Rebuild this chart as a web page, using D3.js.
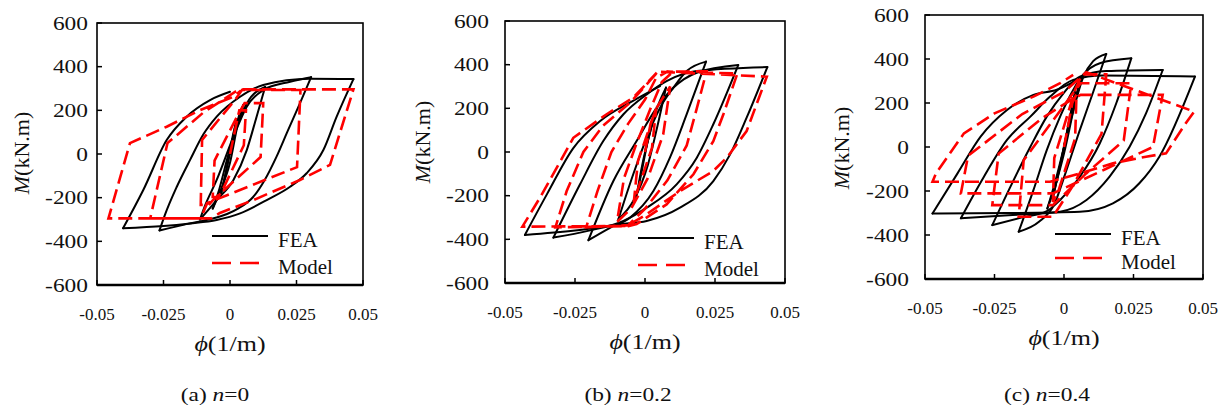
<!DOCTYPE html>
<html>
<head>
<meta charset="utf-8">
<script src="https://cdn.jsdelivr.net/npm/d3@7"></script>
<style>
body { margin: 0; background: #fff; }
text { font-family: 'Liberation Serif', 'Times New Roman', Times, serif; }
</style>
</head>
<body>
<svg id="fig" width="1227" height="414" font-family="Liberation Serif"></svg>
<script>
var phiTicks = [-0.05, -0.025, 0, 0.025, 0.05];
var mTicks = [-600, -400, -200, 0, 200, 400, 600];
var captionTags = ['(a) ', '(b) ', '(c) '];
var nValues = ['0', '0.2', '0.4'];
var legendNames = ['FEA', 'Model'];

// [phi (1/m), M (kN.m)], in loading order
var feaA = [[0,0],[0.0015,100],[0.0026,160],[0.001,80],[-0.0015,-80],[-0.0035,-190],
  [-0.002,-110],[0.001,60],[0.0035,180],[0.005,225],[0.003,140],[0.0,-40],[-0.004,-180],[-0.0065,-250],
  [-0.004,-160],[-0.001,-20],[0.003,140],[0.0065,235],[0.0132,307],
  [0.01,171],[0.0063,18],[0.0013,-119],[-0.005,-211],[-0.0113,-300],
  [-0.0095,-240],[-0.005,-119],[0.0013,79],[0.0063,217],[0.0125,293],[0.0226,331],[0.0305,352],
  [0.0262,230],[0.0215,100],[0.0175,-12],[0.013,-120],[0.0087,-197],[0.003,-250],[-0.0011,-275],[-0.008,-300],[-0.016,-320],[-0.0265,-350],
  [-0.0245,-280],[-0.02,-150],[-0.015,-27],[-0.01,90],[-0.005,171],[0.0038,262],[0.0125,316],[0.03,345],[0.0464,343],
  [0.0401,171],[0.0351,18],[0.0288,-88],[0.0226,-150],[0.0138,-211],[0.0038,-272],[-0.005,-302],[-0.015,-318],[-0.025,-330],[-0.0402,-340],
  [-0.0326,-165],[-0.0238,64],[-0.0163,171],[-0.0075,247],[0,285]];

var modelA = [[0,0],[0.0035,200],[0.006,200],[0.0052,40],[-0.003,-170],[-0.0045,-197],[-0.0065,-197],
  [-0.0058,-30],[0.003,180],[0.0055,233],[0.0125,233],[0.0115,-14],[-0.0064,-211],[-0.008,-233],[-0.011,-233],
  [-0.0105,64],[0.002,250],[0.0045,293],[0.0265,293],[0.0252,-60],[-0.0086,-225],[-0.011,-295],[-0.03,-295],
  [-0.0235,50],[-0.01,190],[0.002,285],[0.005,296],[0.0464,296],
  [0.0376,-50],[0.0263,-119],[0.0088,-211],[-0.0038,-270],[-0.007,-295],[-0.0457,-295],
  [-0.0376,50],[-0.0238,125],[-0.0113,201],[0.0013,262],[0.004,290]];

var feaB = [[0,0],[0.002,110],[0.0035,180],[0.002,100],[-0.001,-60],[-0.003,-200],
  [-0.0015,-110],[0.001,50],[0.004,190],[0.0075,295],[0.005,150],[0.001,-60],[-0.004,-220],[-0.0095,-308],
  [-0.0042,-102],[0.0006,65],[0.0054,203],[0.0101,294],[0.0149,371],[0.0218,414],
  [0.0149,173],[0.0089,-26],[0.003,-179],[-0.0054,-301],[-0.0125,-347],[-0.0202,-404],
  [-0.0113,-133],[-0.003,50],[0.0042,203],[0.0101,294],[0.0185,363],[0.0333,398],
  [0.0244,127],[0.0185,-26],[0.0113,-148],[0.0006,-255],[-0.0077,-316],[-0.02,-360],[-0.0327,-392],
  [-0.0232,-148],[-0.0149,50],[-0.0077,173],[0.0006,264],[0.0077,325],[0.0185,371],[0.0437,389],
  [0.0363,157],[0.0304,-11],[0.0244,-133],[0.0125,-255],[0.0006,-316],[-0.009,-331],[-0.025,-360],[-0.0429,-380],
  [-0.035,-193],[-0.0256,18],[-0.016,142],[-0.0043,234],[0.0054,302]];

var modelB = [[0,0],[0.002,130],[0.004,200],[0.0025,20],[-0.002,-150],[-0.004,-230],
  [-0.0025,-40],[0.004,200],[0.009,300],[0.0065,80],[0.001,-120],[-0.005,-260],[-0.01,-320],
  [-0.0075,-120],[-0.003,40],[0.002,200],[0.006,320],[0.01,368],[0.022,370],
  [0.0185,200],[0.0149,30],[0.008,-130],[0.0,-260],[-0.006,-335],[-0.021,-345],
  [-0.017,-180],[-0.012,0],[-0.006,130],[0.0,240],[0.004,340],[0.008,368],[0.033,360],
  [0.028,173],[0.0244,50],[0.0173,-102],[0.0077,-240],[-0.003,-330],[-0.006,-340],[-0.032,-345],
  [-0.028,-180],[-0.022,0],[-0.015,120],[-0.005,230],[0.002,330],[0.0046,368],[0.0435,345],
  [0.0363,96],[0.0292,-26],[0.0244,-87],[0.0125,-179],[0.0,-290],[-0.0065,-339],[-0.0438,-342],
  [-0.0375,-209],[-0.0315,-72],[-0.0256,65],[-0.0137,173],[-0.0042,249],[0.0042,363]];

var feaC = [[0,0],[0.002,130],[0.004,250],[0.002,120],[-0.001,-60],[-0.004,-230],
  [-0.002,-120],[0.001,60],[0.004,220],[0.0065,320],[0.004,200],[0.0,-30],[-0.003,-170],[-0.006,-280],
  [-0.003,-150],[0.0,0],[0.003,150],[0.007,320],[0.0105,390],[0.0152,423],
  [0.0105,250],[0.0055,70],[0.0005,-120],[-0.0035,-260],[-0.009,-340],[-0.0163,-385],
  [-0.011,-196],[-0.0062,-14],[-0.0014,138],[0.0033,259],[0.0063,320],[0.0129,381],[0.0242,403],
  [0.0188,199],[0.0129,17],[0.0057,-135],[-0.0014,-241],[-0.006,-290],[-0.015,-320],[-0.0258,-355],
  [-0.0193,-181],[-0.0121,1],[-0.0062,138],[-0.0002,244],[0.0057,320],[0.0152,345],[0.0355,350],
  [0.0295,153],[0.0236,1],[0.0164,-135],[0.0081,-241],[-0.0014,-294],[-0.02,-310],[-0.0371,-324],
  [-0.0288,-135],[-0.0205,32],[-0.0121,138],[-0.005,229],[0.0033,305],[0.014,325],[0.0471,320],
  [0.0343,-44],[0.0271,-165],[0.0176,-256],[0.0057,-294],[-0.02,-300],[-0.0473,-302],
  [-0.0383,-120],[-0.03,47],[-0.0205,168],[-0.011,237],[-0.0026,260],[0.0057,312]];

var modelC = [[0,0],[0.003,200],[0.0045,240],[0.004,40],[-0.002,-200],[-0.004,-250],
  [-0.0035,-50],[0.004,260],[0.0065,330],[0.0152,330],[0.0135,60],[0.003,-180],[-0.004,-317],[-0.0163,-317],
  [-0.0145,-60],[-0.004,120],[0.003,240],[0.006,290],[0.0242,290],[0.0215,30],[0.008,-120],[-0.004,-264],[-0.0258,-264],
  [-0.0235,-30],[-0.008,130],[0.002,210],[0.006,237],[0.0355,237],[0.032,0],[0.015,-100],[-0.004,-211],[-0.0371,-211],
  [-0.0345,-40],[-0.015,150],[0.0,250],[0.008,340],[0.0468,161],
  [0.0438,108],[0.0367,-29],[0.0295,-44],[0.0176,-74],[0.0057,-120],[-0.005,-158],[-0.0473,-158],
  [-0.046,-119],[-0.036,62],[-0.025,153],[-0.011,229],[-0.0014,290],[0.0033,328]];

var feaSeries = [feaA, feaB, feaC];
var modelSeries = [modelA, modelB, modelC];

// plot boxes, measured on the picture
var boxes = [
  {x0: 97, x1: 363, y0: 23, y1: 285, tickEnd: 88, titleX: 22, titleY: 153, legX: 212, legY: 236, legGap: 27, capX: 215},
  {x0: 505, x1: 785, y0: 21, y1: 283, tickEnd: 489, titleX: 423, titleY: 142, legX: 638, legY: 238, legGap: 27, capX: 628},
  {x0: 925, x1: 1203, y0: 15, y1: 279, tickEnd: 909, titleX: 842, titleY: 148, legX: 1055, legY: 234, legGap: 24, capX: 1047}
];

// cut a loading history into half-cycles (where phi turns back),
// each one sorted by phi so it can be drawn with a monotone curve
function halfCycles(pts) {
  var out = [], cur = [pts[0]], dir = 0;
  for (var k = 1; k < pts.length; k++) {
    var d = Math.sign(pts[k][0] - pts[k - 1][0]);
    if (dir !== 0 && d !== 0 && d !== dir) {
      out.push(cur);
      cur = [pts[k - 1]];
    }
    if (d !== 0) dir = d;
    cur.push(pts[k]);
  }
  out.push(cur);
  return out.map(function(b) { return b.slice().sort(function(p, q) { return p[0] - q[0]; }); });
}

var svg = d3.select('#fig');

boxes.forEach(function(b, i) {
  var x = d3.scaleLinear().domain([-0.05, 0.05]).range([b.x0, b.x1]);
  var y = d3.scaleLinear().domain([-600, 600]).range([b.y1, b.y0]);
  var g = svg.append('g');

  var line = d3.line().x(function(d) { return x(d[0]); }).y(function(d) { return y(d[1]); });
  var smooth = d3.line().x(function(d) { return x(d[0]); }).y(function(d) { return y(d[1]); })
    .curve(d3.curveMonotoneX);

  g.selectAll('.fea').data(halfCycles(feaSeries[i])).enter().append('path')
    .attr('d', smooth)
    .attr('fill', 'none').attr('stroke', '#000').attr('stroke-width', 2)
    .attr('stroke-linecap', 'round');

  g.append('path')
    .attr('d', line(modelSeries[i]))
    .attr('fill', 'none').attr('stroke', '#ff0000').attr('stroke-width', 2.6)
    .attr('stroke-dasharray', '14,6');

  // frame
  g.append('rect')
    .attr('x', b.x0).attr('y', b.y0)
    .attr('width', b.x1 - b.x0).attr('height', b.y1 - b.y0)
    .attr('fill', 'none').attr('stroke', '#000').attr('stroke-width', 1.6);
  g.append('line')
    .attr('x1', b.x0).attr('x2', b.x1).attr('y1', b.y1).attr('y2', b.y1)
    .attr('stroke', '#000').attr('stroke-width', 2.6);

  // y ticks and labels
  g.selectAll('.yt').data(mTicks).enter().append('line')
    .attr('x1', b.x0).attr('x2', b.x0 + 5)
    .attr('y1', function(d) { return y(d); }).attr('y2', function(d) { return y(d); })
    .attr('stroke', '#000').attr('stroke-width', 1.5);
  g.selectAll('.yl').data(mTicks).enter().append('text')
    .attr('transform', function(d) { return 'translate(' + b.tickEnd + ',' + (y(d) + 6.5) + ') scale(1.3,1)'; })
    .attr('text-anchor', 'end').attr('font-size', 18).attr('fill', '#111')
    .text(function(d) { return d; });

  // x ticks and labels
  g.selectAll('.xt').data(phiTicks).enter().append('line')
    .attr('x1', function(d) { return x(d); }).attr('x2', function(d) { return x(d); })
    .attr('y1', b.y1).attr('y2', b.y1 - 5)
    .attr('stroke', '#000').attr('stroke-width', 1.5);
  g.selectAll('.xl').data(phiTicks).enter().append('text')
    .attr('x', function(d) { return x(d); }).attr('y', b.y1 + 35)
    .attr('text-anchor', 'middle').attr('font-size', 17).attr('fill', '#111')
    .text(function(d) { return d; });

  // axis titles
  var yt = g.append('text')
    .attr('transform', 'translate(' + (b.titleX + 7) + ',' + b.titleY + ') rotate(-90)')
    .attr('text-anchor', 'middle').attr('font-size', 22).attr('fill', '#111');
  yt.append('tspan').attr('font-style', 'italic').text('M');
  yt.append('tspan').text('(kN.m)');

  var xt = g.append('text')
    .attr('transform', 'translate(' + x(0) + ',' + (b.y1 + 66) + ') scale(1.3,1)')
    .attr('text-anchor', 'middle').attr('font-size', 20).attr('fill', '#111');
  xt.append('tspan').attr('font-style', 'italic').text('\u03d5');
  xt.append('tspan').text('(1/m)');

  // legend
  g.append('line')
    .attr('x1', b.legX).attr('x2', b.legX + 56).attr('y1', b.legY).attr('y2', b.legY)
    .attr('stroke', '#000').attr('stroke-width', 2);
  g.append('line')
    .attr('x1', b.legX).attr('x2', b.legX + 50).attr('y1', b.legY + b.legGap).attr('y2', b.legY + b.legGap)
    .attr('stroke', '#ff0000').attr('stroke-width', 2.6).attr('stroke-dasharray', '19,9');
  g.selectAll('.lg').data(legendNames).enter().append('text')
    .attr('x', b.legX + 66).attr('y', function(d, k) { return b.legY + 11 + k * b.legGap; })
    .attr('font-size', 21).attr('fill', '#111')
    .text(function(d) { return d; });

  // caption
  var cap = g.append('text')
    .attr('transform', 'translate(' + b.capX + ',401) scale(1.3,1)')
    .attr('text-anchor', 'middle').attr('font-size', 18).attr('fill', '#111');
  cap.append('tspan').text(captionTags[i]);
  cap.append('tspan').attr('font-style', 'italic').text('n');
  cap.append('tspan').text('=' + nValues[i]);
});
</script>
</body>
</html>
